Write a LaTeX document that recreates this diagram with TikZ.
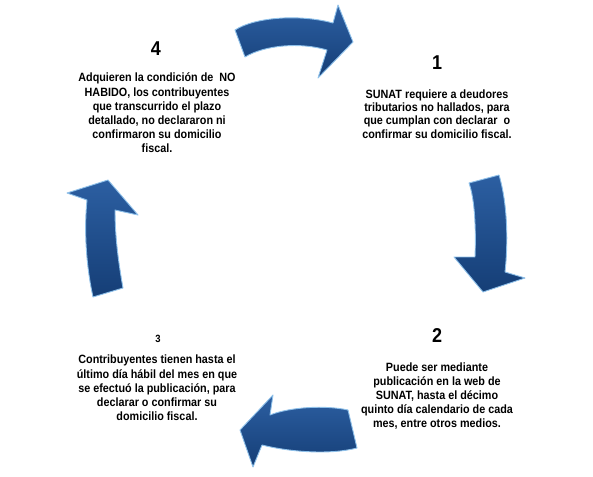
\documentclass[tikz,border=0pt]{standalone}
\usepackage{fontspec}
\setmainfont{Liberation Sans}[FakeStretch=0.9]
\definecolor{arrowtop}{HTML}{2C5FA2}
\definecolor{arrowbot}{HTML}{153E76}
\definecolor{arrowedge}{HTML}{8FC1EA}
\tikzset{
  bigarrow/.style={top color=arrowtop, bottom color=arrowbot, draw=arrowedge, line width=0.9pt, line join=round},
  numlabel/.style={font=\bfseries\fontsize{20}{24}\selectfont, inner sep=0pt},
  smallnum/.style={font=\bfseries\fontsize{10.5}{12}\selectfont, inner sep=0pt},
  bodytext/.style={font=\bfseries\fontsize{12}{14.2}\selectfont, align=center, inner sep=0pt}
}
\begin{document}
\begin{tikzpicture}[x=1pt,y=-1pt]
\useasboundingbox (0,0) rectangle (593,476);
% top arrow (4 -> 1)
\path[bigarrow] (235,30) .. controls (255,17) and (300,14) .. (333,23) -- (338,5) -- (353,42) -- (318,78) -- (327,50) .. controls (300,42) and (265,45) .. (245,57) -- cycle;
% right arrow (1 -> 2)
\path[bigarrow] (469,183) -- (499,175) .. controls (508,205) and (508,245) .. (505,272) -- (525,278) -- (483,292) -- (454,257) -- (475,257) .. controls (476,230) and (475,200) .. (469,183) -- cycle;
% bottom arrow (2 -> 3)
\path[bigarrow] (348,410) .. controls (325,405) and (290,407) .. (270,415) -- (273,395) -- (240,430) -- (253,467) -- (262,445) .. controls (290,452) and (330,455) .. (357,448) -- cycle;
% left arrow (3 -> 4)
\path[bigarrow] (93,297) -- (123,288) .. controls (118,260) and (115,235) .. (115,210) -- (138,215) -- (108,180) -- (67,193) -- (87,200) .. controls (84,230) and (86,265) .. (93,297) -- cycle;

\node[numlabel] (n4) at (156,49) {4};
\node[bodytext] (t4) at (157,113) {Adquieren la condición de \ NO\\HABIDO, los contribuyentes\\que transcurrido el plazo\\detallado, no declararon ni\\confirmaron su domicilio\\fiscal.};

\node[numlabel] (n1) at (437,63) {1};
\node[bodytext, font=\bfseries\fontsize{12}{13.4}\selectfont] (t1) at (437,114) {SUNAT requiere a deudores\\tributarios no hallados, para\\que cumplan con declarar \ o\\confirmar su domicilio fiscal.};

\node[numlabel] (n2) at (437,336) {2};
\node[bodytext] (t2) at (437,396) {Puede ser mediante\\publicación en la web de\\SUNAT, hasta el décimo\\quinto día calendario de cada\\mes, entre otros medios.};

\node[smallnum] (n3) at (158,339) {3};
\node[bodytext] (t3) at (157,388) {Contribuyentes tienen hasta el\\último día hábil del mes en que\\se efectuó la publicación, para\\declarar o confirmar su\\domicilio fiscal.};
\end{tikzpicture}
\end{document}
